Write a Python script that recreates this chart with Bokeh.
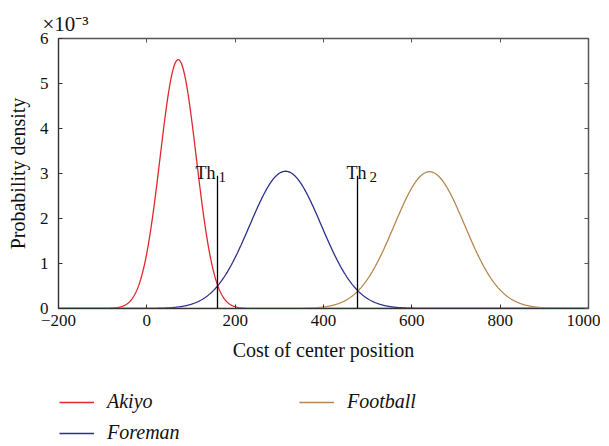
import numpy as np
from bokeh.plotting import figure
from bokeh.layouts import column
from bokeh.models import (Range1d, FixedTicker, LinearAxis, Label, Legend, LegendItem)
from bokeh.embed import file_html
from bokeh.resources import INLINE

# ---- data (density in units of 1e-3) ----
series_names = ["Akiyo", "Foreman", "Football"]
series_colors = ["#e3262e", "#2c2f8c", "#b8874f"]
series_means = [71, 314, 640]
series_sigmas = [41, 81, 80]
series_peaks = [5.53, 3.05, 3.04]

thresholds = [160, 477]
threshold_names = ["1", "2"]
threshold_top = 2.95

x_ticks = [-200, 0, 200, 400, 600, 800, 1000]
y_ticks = [0, 1, 2, 3, 4, 5, 6]
multiplier = "\u00d710\u207b\u00b3"

FONT = "Liberation Serif"
W = 600

# ---- main plot ----
p = figure(width=W, height=368, output_backend="svg", toolbar_location=None,
           x_range=Range1d(-200, 1000), y_range=Range1d(0, 6),
           min_border_left=58, min_border_right=12, min_border_top=38,
           min_border_bottom=60, x_axis_label="Cost of center position",
           y_axis_label="Probability density", title=multiplier)
p.title.align = "left"
p.title.offset = -16
p.title.text_font = FONT
p.title.text_font_size = "21px"
p.title.text_font_style = "normal"
p.title.text_color = "#111111"
p.title.standoff = 6
p.grid.visible = False
p.outline_line_color = "#555555"
p.outline_line_width = 1.5

for ax in (p.xaxis[0], p.yaxis[0]):
    ax.major_label_text_font = FONT
    ax.major_label_text_font_size = "17px"
    ax.major_label_text_color = "#111111"
    ax.axis_label_text_font = FONT
    ax.axis_label_text_font_size = "20px"
    ax.axis_label_text_font_style = "normal"
    ax.axis_label_text_color = "#111111"
    ax.major_tick_in = 4
    ax.major_tick_out = 0
    ax.minor_tick_in = 0
    ax.minor_tick_out = 0
    ax.axis_line_color = "#333333"
    ax.major_tick_line_color = "#333333"

p.xaxis[0].ticker = FixedTicker(ticks=x_ticks)
p.yaxis[0].ticker = FixedTicker(ticks=y_ticks)
p.xaxis[0].major_label_overrides = {t: str(t).replace("-", "\u2212") for t in x_ticks}
p.xaxis[0].major_label_standoff = 6
p.xaxis[0].axis_label_standoff = 10
p.yaxis[0].major_label_standoff = 10
p.yaxis[0].axis_label_standoff = 8

for loc, tk in (("above", x_ticks), ("right", y_ticks)):
    ax = LinearAxis(ticker=FixedTicker(ticks=tk), major_label_text_color=None,
                    major_tick_in=4, major_tick_out=0, minor_tick_in=0, minor_tick_out=0,
                    axis_line_color="#555555", major_tick_line_color="#555555",
                    major_label_text_font_size="1px", major_label_standoff=0)
    p.add_layout(ax, loc)

xs = np.linspace(-200, 1000, 1201)
for name, col, mu, sd, pk in zip(series_names, series_colors, series_means,
                                 series_sigmas, series_peaks):
    ys = pk * np.exp(-((xs - mu) ** 2) / (2 * sd ** 2))
    p.line(xs, ys, line_color=col, line_width=1.3)

for t in thresholds:
    p.segment(x0=[t], y0=[0], x1=[t], y1=[threshold_top], line_color="black", line_width=1.3)

th_text_x = [110, 452]
sub_text_x = [162, 504]
for tx, sx, nm in zip(th_text_x, sub_text_x, threshold_names):
    p.add_layout(Label(x=tx, y=3.02, text="Th", text_font=FONT, text_font_size="18px",
                       text_color="#111111", text_baseline="alphabetic"))
    p.add_layout(Label(x=sx, y=2.93, text=nm, text_font=FONT, text_font_size="15px",
                       text_color="#111111", text_baseline="alphabetic"))

# ---- legend strip (its frame is aligned with the main frame) ----
leg = figure(width=W, height=76, output_backend="svg", toolbar_location=None,
             x_range=Range1d(0, 1), y_range=Range1d(0, 1),
             x_axis_type=None, y_axis_type=None,
             min_border=0, outline_line_color=None)
leg.grid.visible = False
dummies = [leg.line([-5, -4], [-5, -4], line_color=c, line_width=1.6) for c in series_colors]

def make_legend(items, loc):
    return Legend(items=items, location=loc, orientation="vertical",
                  label_text_font=FONT, label_text_font_style="italic",
                  label_text_font_size="20px", label_text_color="#111111",
                  glyph_width=35, glyph_height=20, label_height=20, label_standoff=13,
                  spacing=8, padding=0, margin=0, border_line_color=None,
                  background_fill_alpha=0)

leg.add_layout(make_legend([LegendItem(label=series_names[0], renderers=[dummies[0]]),
                            LegendItem(label=series_names[1], renderers=[dummies[1]])],
                           (1, 0)), "center")
leg.add_layout(make_legend([LegendItem(label=series_names[2], renderers=[dummies[2]])],
                           (241, 31)), "center")

layout = column(p, leg, spacing=0)
open("out.html", "w").write(file_html(layout, INLINE))
